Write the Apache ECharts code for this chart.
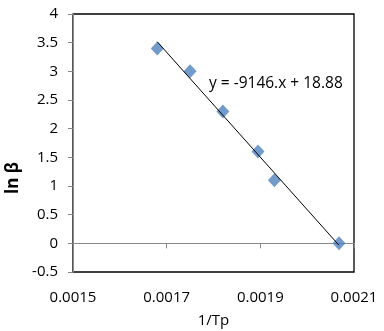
<!DOCTYPE html>
<html>
<head>
<meta charset="utf-8">
<script src="https://cdn.jsdelivr.net/npm/echarts@6/dist/echarts.min.js"></script>
<style>
  html, body { margin: 0; padding: 0; background: #fff; }
  #chart { width: 384px; height: 331px; }
</style>
</head>
<body>
<div id="chart"></div>
<script>
// 1/Tp against ln beta
const invTp = [0.00168, 0.00175, 0.00182, 0.001895, 0.00193, 0.002068];
const lnBeta = [3.4, 3.0, 2.3, 1.6, 1.1, 0.0];

// trend line shown on the chart
const slope = -9146;
const intercept = 18.88;
const eqText = 'y = -9146.x + 18.88';

const xMin = 0.0015, xMax = 0.0021, xStep = 0.0002;
const yMin = -0.5, yMax = 4, yStep = 0.5;

const font = '"Open Sans", "Noto Sans", sans-serif';

const x0 = Math.min(...invTp);
const x1 = Math.max(...invTp);
const trend = [[x0, slope * x0 + intercept], [x1, slope * x1 + intercept]];

const chart = echarts.init(document.getElementById('chart'));

chart.setOption({
  animation: false,
  grid: {
    left: 73, right: 30, top: 14, bottom: 59,
    outerBoundsMode: 'none', containLabel: false,
    show: true, borderColor: '#000', borderWidth: 1.3, backgroundColor: 'transparent'
  },
  xAxis: [
    {
      type: 'value', min: xMin, max: xMax, interval: xStep,
      name: '1/Tp', nameLocation: 'middle', nameGap: 41,
      nameTextStyle: { fontFamily: font, fontSize: 15, color: '#000' },
      axisLine: { show: false, onZero: false },
      axisTick: { show: false },
      splitLine: { show: false },
      axisLabel: {
        margin: 18, fontFamily: font, fontSize: 15, color: '#000',
        formatter: v => v.toFixed(4)
      }
    },
    {
      type: 'value', min: xMin, max: xMax, interval: xStep, position: 'bottom',
      axisLine: { show: true, onZero: true, lineStyle: { color: '#888', width: 1 } },
      axisTick: { show: true, inside: false, length: 5, lineStyle: { color: '#888' } },
      axisLabel: { show: false },
      splitLine: { show: false }
    }
  ],
  yAxis: {
    type: 'value', min: yMin, max: yMax, interval: yStep,
    axisLine: { show: true, onZero: false, lineStyle: { color: '#888', width: 1 } },
    axisTick: { show: true, length: 5, lineStyle: { color: '#888' } },
    splitLine: { show: false },
    axisLabel: { margin: 15, fontFamily: font, fontSize: 15, color: '#000' }
  },
  graphic: [
    {
      type: 'text', left: 209, top: 76,
      style: { text: eqText, fontFamily: font, fontSize: 15.5, fill: '#000' }
    },
    {
      // y axis title sits lower than centre in the original
      type: 'text', x: 13, y: 178, rotation: Math.PI / 2,
      style: {
        text: 'ln β', fontFamily: font, fontSize: 17, fontWeight: 'bold', fill: '#000',
        align: 'center', verticalAlign: 'middle'
      }
    }
  ],
  series: [
    {
      type: 'line', data: trend, xAxisIndex: 0, showSymbol: false, symbol: 'none',
      lineStyle: { color: '#000', width: 1 }, z: 3
    },
    {
      type: 'scatter', data: invTp.map((x, i) => [x, lnBeta[i]]), xAxisIndex: 0,
      symbol: 'diamond', symbolSize: [13, 14],
      itemStyle: { color: '#4F81BD' }, z: 2
    }
  ]
});
</script>
</body>
</html>
